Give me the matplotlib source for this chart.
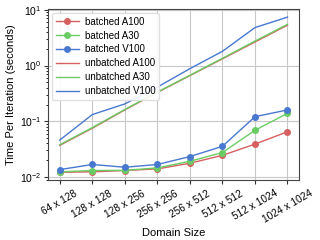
import matplotlib
matplotlib.use("Agg")
import matplotlib.pyplot as plt
import numpy as np

domains = ["64 x 128", "128 x 128", "128 x 256", "256 x 256",
           "256 x 512", "512 x 512", "512 x 1024", "1024 x 1024"]

batched_a100 = [0.0122, 0.0124, 0.0131, 0.0140, 0.0177, 0.0245, 0.039, 0.065]
batched_a30 = [0.0124, 0.0131, 0.0132, 0.0146, 0.0192, 0.0275, 0.069, 0.139]
batched_v100 = [0.0136, 0.0168, 0.0150, 0.0168, 0.0233, 0.0356, 0.121, 0.160]
unbatched_a100 = [0.037, 0.075, 0.160, 0.33, 0.66, 1.32, 2.65, 5.3]
unbatched_a30 = [0.038, 0.077, 0.163, 0.335, 0.67, 1.35, 2.75, 5.5]
unbatched_v100 = [0.046, 0.132, 0.205, 0.41, 0.88, 1.8, 4.8, 7.4]

red = "#d65f5f"
green = "#6acc64"
blue = "#4878d0"

plt.rcParams["font.family"] = ["Liberation Sans", "DejaVu Sans"]
fig = plt.figure(figsize=(3.2, 2.4), dpi=100)
ax = fig.add_axes([0.151, 0.25, 0.783, 0.711])

x = np.arange(len(domains))
ax.plot(x, batched_a100, "-o", color=red, lw=1, ms=4, label="batched A100")
ax.plot(x, batched_a30, "-o", color=green, lw=1, ms=4, label="batched A30")
ax.plot(x, batched_v100, "-o", color=blue, lw=1, ms=4, label="batched V100")
ax.plot(x, unbatched_a100, "-", color=red, lw=1, label="unbatched A100")
ax.plot(x, unbatched_a30, "-", color=green, lw=1, label="unbatched A30")
ax.plot(x, unbatched_v100, "-", color=blue, lw=1, label="unbatched V100")

ax.set_yscale("log")
ax.set_xticks(x)
ax.set_xticklabels(domains, rotation=30, ha="center", fontsize=7.3)
ax.tick_params(axis="y", labelsize=7.5)
ax.tick_params(axis="both", direction="out", length=3, width=0.8, color="#333333", pad=2)
ax.tick_params(axis="x", pad=3)
ax.tick_params(axis="y", which="minor", length=1.5, width=0.6)
ax.grid(True, which="major", color="#c8c8c8", lw=0.8)
for s in ax.spines.values():
    s.set_color("#444444")
    s.set_linewidth(0.8)

ax.set_xlabel("Domain Size", fontsize=8, labelpad=2)
ax.set_ylabel("Time Per Iteration (seconds)", fontsize=8, labelpad=3)
ax.legend(loc="upper left", fontsize=7, frameon=True, framealpha=0.9,
          edgecolor="#dddddd", handlelength=2.4, handletextpad=0.6,
          labelspacing=0.4, borderaxespad=0.35)

fig.savefig("out.png", dpi=100)
